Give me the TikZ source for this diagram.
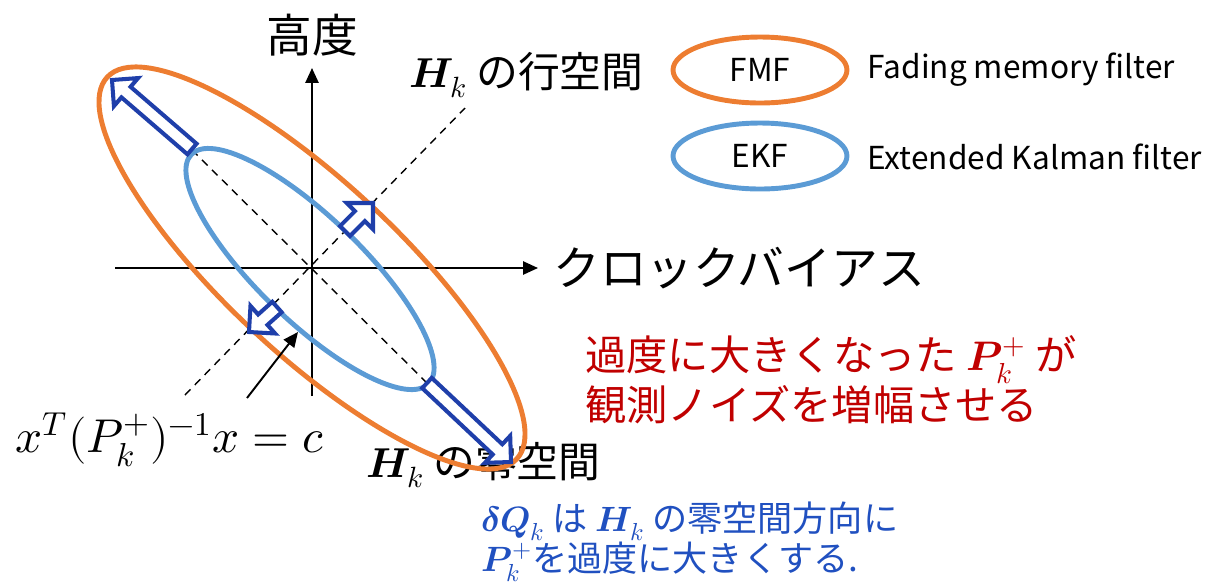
\documentclass[tikz,border=0pt]{standalone}
\usepackage{fontspec}
\usepackage{unicode-math}
\setmathfont{Latin Modern Math}
\setmainfont{Noto Sans CJK JP}
\usetikzlibrary{arrows.meta,calc}
\definecolor{fmforange}{HTML}{ED7D31}
\definecolor{ekfblue}{HTML}{5B9BD5}
\definecolor{arrowblue}{HTML}{1F3FAA}
\definecolor{notered}{HTML}{C00000}
\definecolor{noteblue}{HTML}{2050C0}
% #1 base, #2 tip, #3 half shaft width, #4 half head width, #5 head length
\newcommand{\blkarrow}[5]{%
  \coordinate (hd) at ($(#2)!#5!(#1)$);
  \draw[blockline] ($(#1)!#3!90:(#2)$) -- ($(hd)!#3!-90:(#1)$) -- ($(hd)!#4!-90:(#1)$)
    -- (#2) -- ($(hd)!#4!90:(#1)$) -- ($(hd)!#3!90:(#1)$) -- ($(#1)!#3!-90:(#2)$) -- cycle;}
\tikzset{
  axisline/.style={line width=1.1pt,-{Triangle[length=8.5pt,width=7.5pt]}},
  dashline/.style={line width=0.8pt,dash pattern=on 4.5pt off 3.5pt},
  fmfline/.style={draw=fmforange,line width=2.8pt},
  ekfline/.style={draw=ekfblue,line width=2.8pt},
  blockline/.style={draw=arrowblue,fill=white,line width=2.3pt,line join=miter},
  lbl/.style={inner sep=0pt,font=\fontsize{23.8}{28}\selectfont},
  legendtext/.style={lbl,font=\fontsize{18}{21}\selectfont},
}
\begin{document}
\begin{tikzpicture}[x=0.02cm,y=-0.02cm]
\useasboundingbox (0,0) rectangle (1211,586);
% axes
\coordinate (O) at (312,268);
\coordinate (xl) at (115,268);
\coordinate (xr) at (538,268);
\coordinate (yb) at (312,396);
\coordinate (yt) at (312,68);
\draw[axisline] (xl) -- (xr);
\draw[axisline] (yb) -- (yt);
% dashed lines
\coordinate (rowA) at (185,395);
\coordinate (rowB) at (465,108);
\coordinate (nulA) at (192,150);
\coordinate (nulB) at (427,383);
\draw[dashline] (rowA) -- (rowB);
\draw[dashline] (nulA) -- (nulB);
% labels
\node[lbl,font=\fontsize{26}{30}\selectfont] (alt) at (312,35) {高度};
\node[lbl,anchor=west,font=\fontsize{26.6}{30}\selectfont] (clk) at (553,268) {クロックバイアス};
\node[lbl,anchor=west] (rowlbl) at (409,75) {$\symbfit{H}_k$ の行空間};
\node[lbl,anchor=west] (nullbl) at (366,465) {$\symbfit{H}_k$ の零空間};
% ellipses
\draw[fmfline] (O) ellipse[x radius=5.6cm,y radius=1.72cm,rotate=-43];
\draw[ekfline] (310,269) ellipse[x radius=3.3cm,y radius=1.04cm,rotate=-44];
% block arrows
\coordinate (a1b) at (192,149); \coordinate (a1t) at (112,80);
\coordinate (a2b) at (427,383); \coordinate (a2t) at (511,462);
\coordinate (a3b) at (345,231); \coordinate (a3t) at (373,203);
\coordinate (a4b) at (277,307); \coordinate (a4t) at (249,332);
\blkarrow{a1b}{a1t}{0.14cm}{0.37cm}{0.37cm}
\blkarrow{a2b}{a2t}{0.14cm}{0.37cm}{0.37cm}
\blkarrow{a3b}{a3t}{0.14cm}{0.37cm}{0.37cm}
\blkarrow{a4b}{a4t}{0.14cm}{0.37cm}{0.37cm}
% contour label
\node[lbl,font=\fontsize{27}{30}\selectfont] (eq) at (170,440) {$x^{T}(P_k^{+})^{-1}x=c$};
\coordinate (ptr) at (247,398);
\coordinate (ptrt) at (298,332);
\draw[line width=1.1pt,-{Triangle[length=8.5pt,width=7.5pt]}] (ptr) -- (ptrt);
% legend
\draw[fmfline] (760,70) ellipse[x radius=1.74cm,y radius=0.66cm];
\node[legendtext] (fmf) at (760,70) {FMF};
\node[legendtext,anchor=west] (fmft) at (867,70) {Fading memory filter};
\draw[ekfline] (760,156) ellipse[x radius=1.74cm,y radius=0.66cm];
\node[legendtext] (ekf) at (760,156) {EKF};
\node[legendtext,anchor=west] (ekft) at (867,157) {Extended Kalman filter};
% notes
\node[lbl,anchor=west,align=left,text=notered,font=\fontsize{23.5}{28.3}\selectfont] (red) at (585,380)
  {過度に大きくなった $\symbfit{P}_k^{+}$ が\\観測ノイズを増幅させる};
\node[lbl,anchor=west,align=left,text=noteblue,font=\fontsize{20}{22.7}\selectfont] (blue) at (481,542)
  {$\symbfit{\delta Q}_k$ は $\symbfit{H}_k$ の零空間方向に\\$\symbfit{P}_k^{+}$を過度に大きくする.};
\end{tikzpicture}
\end{document}
